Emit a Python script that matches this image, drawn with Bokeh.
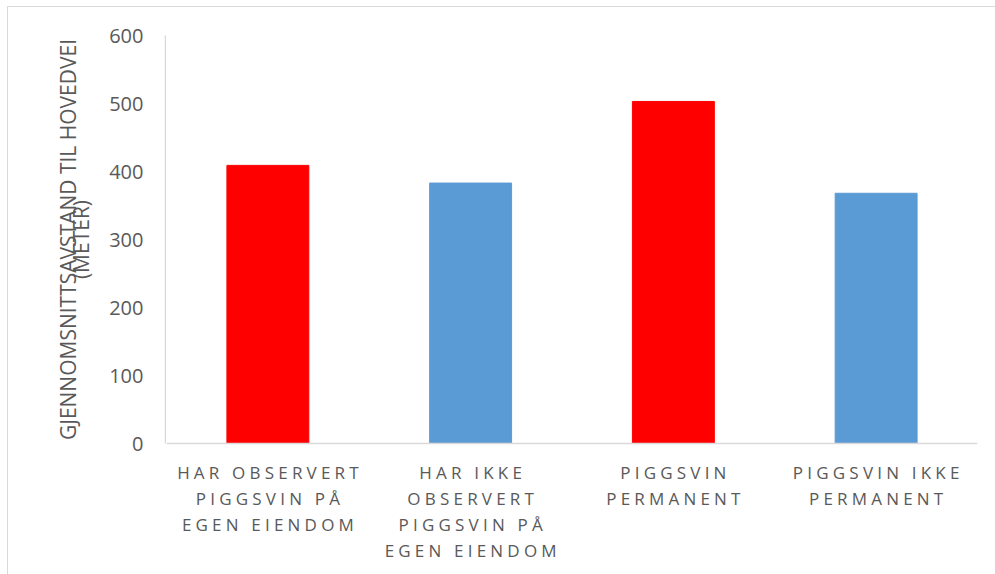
from bokeh.plotting import figure
from bokeh.layouts import row
from bokeh.models import ColumnDataSource, Range1d, FixedTicker, LinearAxis, Span
from bokeh.core.properties import value
from bokeh.embed import file_html
from bokeh.resources import INLINE

# Average distance to main road, per respondent group
groups = [
    "HAR OBSERVERT\nPIGGSVIN PÅ\nEGEN EIENDOM",
    "HAR IKKE\nOBSERVERT\nPIGGSVIN PÅ\nEGEN EIENDOM",
    "PIGGSVIN\nPERMANENT",
    "PIGGSVIN IKKE\nPERMANENT",
]
distance_m = [409, 383, 503, 368]
bar_colors = ["#FF0000", "#5B9BD5", "#FF0000", "#5B9BD5"]
y_ticks = [0, 100, 200, 300, 400, 500, 600]
y_title = "GJENNOMSNITTSAVSTAND TIL HOVEDVEI"
y_unit = "(METER)"

TEXT = "#595959"
RULE = "#D9D9D9"
FONT = "Open Sans"
LETTER_SPACING = 4.2      # px, category labels are set in spaced capitals
LINE_STEP = 26            # px between category label lines
FIRST_LINE = 29           # px from the baseline to the first label line

# vertical layout (px): plot area above the baseline, label band below it
H = 567
TOP = 28
PLOT_PX = 408
BELOW_PX = H - TOP - PLOT_PX
y_max = max(y_ticks)
y_min = -BELOW_PX * y_max / PLOT_PX


def unaligned(fig):
    # the two panels have different frames on purpose
    if "frame_align" in fig.properties():
        fig.frame_align = False
    return fig


# --- value axis (same scale as the bar area: 0..600 over PLOT_PX) --------
r = unaligned(figure(
    width=158, height=H,
    x_range=Range1d(0, 1), y_range=Range1d(0, y_max),
    output_backend="svg", toolbar_location=None,
    x_axis_location=None,
    min_border_left=157, min_border_right=0,
    min_border_top=TOP, min_border_bottom=BELOW_PX,
))
r.outline_line_color = None
r.grid.visible = False
r.border_fill_color = "white"

ax = r.yaxis[0]
ax.ticker = FixedTicker(ticks=y_ticks)
ax.axis_line_color = RULE
ax.axis_line_width = 1.5
ax.major_tick_line_color = None
ax.minor_tick_line_color = None
ax.major_tick_out = 0
ax.major_tick_in = 0
ax.minor_tick_out = 0
ax.minor_tick_in = 0
ax.major_label_standoff = 22
ax.major_label_text_font = FONT
ax.major_label_text_font_size = "20px"
ax.major_label_text_color = TEXT
ax.axis_label = y_unit
ax.axis_label_text_font = FONT
ax.axis_label_text_font_size = "21px"
ax.axis_label_text_font_style = "normal"
ax.axis_label_text_color = TEXT
ax.axis_label_standoff = 11

title_ax = LinearAxis(
    ticker=FixedTicker(ticks=[]),
    axis_line_color=None, major_tick_line_color=None, minor_tick_line_color=None,
    major_tick_out=0, major_tick_in=0, minor_tick_out=0, minor_tick_in=0,
    major_label_standoff=0,
    axis_label=y_title, axis_label_standoff=-17,
    axis_label_text_font=FONT, axis_label_text_font_size="21px",
    axis_label_text_font_style="normal", axis_label_text_color=TEXT,
)
r.add_layout(title_ax, "left")

# --- bars and category labels ------------------------------------------
p = unaligned(figure(
    width=829, height=H,
    x_range=groups, y_range=Range1d(y_min, y_max),
    output_backend="svg", toolbar_location=None,
    x_axis_location=None, y_axis_location=None,
    min_border_left=0, min_border_right=18,
    min_border_top=TOP, min_border_bottom=0,
))
p.styles = {"letter-spacing": f"{LETTER_SPACING}px"}
p.outline_line_color = None
p.grid.visible = False
p.border_fill_color = "white"

src = ColumnDataSource(dict(group=groups, dist=distance_m, color=bar_colors))
p.vbar(x="group", top="dist", bottom=0, width=0.404, source=src,
       fill_color="color", line_color="color", line_width=1)

p.add_layout(Span(location=0, dimension="width", line_color=RULE, line_width=1.5))

lab_x, lab_text, lab_dx, lab_dy = [], [], [], []
for g in groups:
    for k, line in enumerate(g.split("\n")):
        lab_x.append(g)
        lab_text.append(line)
        lab_dx.append(-(len(line) - 1) * LETTER_SPACING / 2)
        lab_dy.append(FIRST_LINE + k * LINE_STEP)
labels = ColumnDataSource(dict(x=lab_x, text=lab_text, dx=lab_dx, dy=lab_dy))
p.text(x="x", y=0, text="text", x_offset="dx", y_offset="dy", source=labels,
       text_align="center", text_baseline="middle",
       text_font=value(FONT), text_font_size="17px", text_color=TEXT)

layout = row(r, p, spacing=0, margin=(6, 0, 0, 7))
layout.styles = {"border-top": f"1px solid {RULE}", "border-left": f"1px solid {RULE}",
                 "background": "white"}

open("out.html", "w").write(file_html(layout, INLINE))
